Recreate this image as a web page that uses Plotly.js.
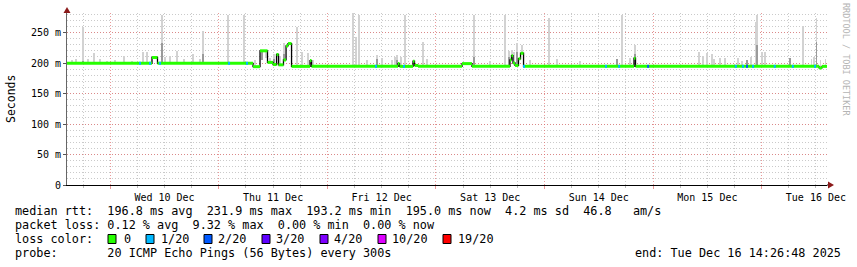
<!DOCTYPE html>
<html>
<head>
<meta charset="utf-8">
<script src="https://cdn.plot.ly/plotly-3.0.1.min.js"></script>
<style>html,body{margin:0;padding:0;background:#fff;}#chart{width:857px;height:267px;}</style>
</head>
<body>
<div id="chart"></div>
<script>
// ---------- DATA ----------
const startTime = "2025-12-09 14:26:48";
const endTime = "2025-12-16 14:26:48";

// median RTT (ms) as a step series: value holds from its time until the next time
const medTime = ["2025-12-09 14:26:48","2025-12-10 09:14","2025-12-10 10:27","2025-12-11 07:34","2025-12-11 09:07",
  "2025-12-11 10:46","2025-12-11 12:00","2025-12-11 12:46","2025-12-11 13:12","2025-12-11 14:18","2025-12-11 14:52",
  "2025-12-11 15:18","2025-12-11 16:05","2025-12-11 20:10","2025-12-11 20:30","2025-12-12 15:37","2025-12-12 15:57",
  "2025-12-12 18:56","2025-12-12 19:16","2025-12-12 20:02","2025-12-13 05:46","2025-12-13 07:58","2025-12-13 16:22",
  "2025-12-13 16:42","2025-12-13 17:02","2025-12-13 17:29","2025-12-13 18:15","2025-12-13 18:42","2025-12-13 19:22",
  "2025-12-14 19:47","2025-12-14 20:07","2025-12-16 12:41","2025-12-16 13:20"];
const medVal = [199.5,209,199.5,194,220,201,197.5,214,197,205,228,231.9,194.5,204,194.5,199,194.5,203,196,194.5,
  199,194.5,205,212,200,196,207,216,194.5,208,194.5,192,194.5];

// smoke: highest ping per interval (ms) and a denser inner band (ms, null = none)
const smokeTime = ["2025-12-09 15:34","2025-12-09 16:27","2025-12-09 17:59","2025-12-09 19:05","2025-12-09 20:25",
  "2025-12-09 21:45","2025-12-09 23:17","2025-12-10 01:04","2025-12-10 03:03","2025-12-10 04:49","2025-12-10 07:15",
  "2025-12-10 08:08","2025-12-10 11:27","2025-12-10 12:07","2025-12-10 13:13","2025-12-10 14:46","2025-12-10 16:19",
  "2025-12-10 18:18","2025-12-10 19:51","2025-12-10 20:31","2025-12-11 02:02","2025-12-11 05:35","2025-12-11 08:00",
  "2025-12-11 09:33","2025-12-11 10:26","2025-12-11 11:19","2025-12-11 12:12","2025-12-11 13:32","2025-12-11 14:25",
  "2025-12-11 17:17","2025-12-11 18:23","2025-12-11 19:43","2025-12-11 20:50","2025-12-12 05:40","2025-12-12 06:20",
  "2025-12-12 07:00","2025-12-12 08:46","2025-12-12 10:58","2025-12-12 12:05","2025-12-12 14:17","2025-12-12 14:57",
  "2025-12-12 15:24","2025-12-12 16:17","2025-12-12 17:10","2025-12-12 21:08","2025-12-12 22:02","2025-12-13 08:25",
  "2025-12-13 11:58","2025-12-13 15:16","2025-12-13 16:09","2025-12-13 16:49","2025-12-13 17:16","2025-12-13 17:55",
  "2025-12-13 19:02","2025-12-13 20:48","2025-12-14 01:00","2025-12-14 02:47","2025-12-14 07:52","2025-12-14 16:02",
  "2025-12-14 17:09","2025-12-14 18:55","2025-12-14 20:00","2025-12-15 10:09","2025-12-15 11:02","2025-12-15 11:55",
  "2025-12-15 13:01","2025-12-15 13:28","2025-12-15 14:48","2025-12-15 15:54","2025-12-15 18:46","2025-12-15 19:40",
  "2025-12-15 20:46","2025-12-15 21:39","2025-12-15 22:45","2025-12-15 22:59","2025-12-16 00:05","2025-12-16 00:44",
  "2025-12-16 06:16","2025-12-16 09:09","2025-12-16 11:06","2025-12-16 11:36","2025-12-16 12:03","2025-12-16 12:56",
  "2025-12-16 14:02"];
const smokeMax = [205,206,259,207,216,206,204,205,211,204,218,218,279,210,212,220,206,214,207,253,279,279,205,
  212,208,208,215,212,233,259,218,216,205,282,243,279,205,213,208,205,210,213,210,279,235,206,279,203,279,220,
  222,218,233,230,205,273,207,203,207,279,208,230,218,212,216,215,207,208,208,208,204,205,210,268,279,218,218,
  208,261,207,210,274,205,207];
const smokeMid = [null,null,204,null,null,null,null,null,null,null,null,null,233,null,null,null,null,null,null,215,null,null,null,
  205,null,null,206,null,215,null,null,null,null,null,null,null,null,206,null,null,null,205,null,null,null,null,210,null,null,210,
  212,null,218,215,null,null,null,null,207,null,null,215,null,null,null,null,null,null,null,null,null,205,null,null,230,null,null,
  208,null,null,null,235,null,null];

// packet loss (count of 20) observed at these times
const lossTime = ["2025-12-10 06:35","2025-12-10 08:48","2025-12-10 11:00","2025-12-11 02:16","2025-12-11 06:14",
  "2025-12-12 10:45","2025-12-12 16:56","2025-12-13 19:28","2025-12-14 13:36","2025-12-14 16:30","2025-12-14 22:54",
  "2025-12-15 18:18","2025-12-15 19:52","2025-12-15 20:46","2025-12-15 22:06","2025-12-16 02:54","2025-12-16 06:54",
  "2025-12-16 11:48"];
const lossCount = [1,1,1,1,1,1,1,1,1,1,2,1,1,2,1,1,1,1];

// legend / labels
const lossLevels = [0,1,2,3,4,10,19];
const lossLabels = ["0","1/20","2/20","3/20","4/20","10/20","19/20"];
const yTickVals = [0,50,100,150,200,250];
const yTickText = ["0","50 m","100 m","150 m","200 m","250 m"];
const statsLine1 = "median rtt:  196.8 ms avg  231.9 ms max  193.2 ms min  195.0 ms now  4.2 ms sd  46.8   am/s";
const statsLine2 = "packet loss: 0.12 % avg  9.32 % max  0.00 % min  0.00 % now";
const statsLine3 = "loss color:";
const statsLine4 = "probe:       20 ICMP Echo Pings (56 Bytes) every 300s";
const endLabel = "end: Tue Dec 16 14:26:48 2025";

// ---------- STYLE ----------
const lossColors = {0:"#26ff00",1:"#00b8ff",2:"#0059ff",3:"#5e00ff",4:"#7e00ff",10:"#dd00ff",19:"#ff0000"};
const MONO = "DejaVu Sans Mono";
const L = 67, W = 760, B = 185, H = 172;
const PX = p => (p - L) / W;
const PY = p => (B - p) / H;
const nb = s => s.replace(/ /g, "\u00A0");

const tms = s => new Date(s.replace(" ", "T") + (s.length === 16 ? ":00" : "") + "Z").getTime();
const fmt = ms => new Date(ms).toISOString().replace("T", " ").slice(0, 19);
const medMs = medTime.map(tms);
function medianAt(s) {
  const t = tms(s);
  let v = medVal[0];
  for (let i = 0; i < medMs.length; i++) { if (medMs[i] <= t) v = medVal[i]; else break; }
  return v;
}

const traces = [];
// smoke outer
const smokeBase = smokeTime.map(medianAt);
traces.push({type:"bar", x:smokeTime, base:smokeBase, y:smokeMax.map((v,i)=>v-smokeBase[i]),
  width:1000000, marker:{color:"#d2d2d2", line:{width:0}}, hoverinfo:"skip"});
// smoke inner
const midX = [], midB = [], midY = [];
smokeTime.forEach((t,i)=>{ if (smokeMid[i] !== null) { midX.push(t); midB.push(smokeBase[i]); midY.push(smokeMid[i]-smokeBase[i]); }});
traces.push({type:"bar", x:midX, base:midB, y:midY, width:1000000,
  marker:{color:"#9a9a9a", line:{width:0}}, hoverinfo:"skip"});
// black median step
traces.push({type:"scatter", mode:"lines", x:medTime.concat([endTime]), y:medVal.concat([medVal[medVal.length-1]]),
  line:{shape:"hv", color:"#000", width:1.3}, hoverinfo:"skip"});
// green horizontal segments
const gx = [], gy = [];
for (let i = 0; i < medTime.length; i++) {
  const t2 = i + 1 < medTime.length ? medTime[i+1] : endTime;
  gx.push(medTime[i], t2, null); gy.push(medVal[i], medVal[i], null);
}
traces.push({type:"scatter", mode:"lines", x:gx, y:gy, line:{color:lossColors[0], width:3}, hoverinfo:"skip"});
// loss colored segments
[1,2].forEach(lv => {
  const lx = [], ly = [];
  lossTime.forEach((t,i)=>{ if (lossCount[i] === lv) {
    const c = tms(t), v = medianAt(t);
    lx.push(fmt(c - 800000), fmt(c + 800000), null); ly.push(v, v, null);
  }});
  traces.push({type:"scatter", mode:"lines", x:lx, y:ly, line:{color:lossColors[lv], width:3}, hoverinfo:"skip"});
});

const redGrid = "rgba(225,110,110,0.7)";
const grayGrid = "rgba(150,150,150,0.5)";
const dash = "1px,2px";

const annotations = [
  {text:"Seconds", xref:"paper", yref:"paper", x:PX(11), y:PY(99), textangle:-90, showarrow:false,
   font:{family:MONO, size:11.5, color:"#000"}, xanchor:"center", yanchor:"middle"},
  {text:"RRDTOOL / TOBI OETIKER", xref:"paper", yref:"paper", x:PX(846), y:PY(60), textangle:90, showarrow:false,
   font:{family:MONO, size:8.5, color:"#b4b4b4"}, xanchor:"center", yanchor:"middle"},
];
[[statsLine1,211],[statsLine2,225],[statsLine3,239],[statsLine4,253]].forEach(([s,y])=>{
  annotations.push({text:nb(s), xref:"paper", yref:"paper", x:PX(14), y:PY(y), showarrow:false,
    xanchor:"left", yanchor:"middle", font:{family:MONO, size:11.8, color:"#000"}, borderpad:0});
});
annotations.push({text:nb(endLabel), xref:"paper", yref:"paper", x:PX(842), y:PY(253), showarrow:false,
  xanchor:"right", yanchor:"middle", font:{family:MONO, size:11.8, color:"#000"}, borderpad:0});

const sqLeft = [108,146,204,262,320,378,443];
const lblLeft = [123,160,217,275,333,391,457];
const shapes = [
  // axis arrows
  {type:"path", xref:"paper", yref:"paper", path:`M ${PX(63.5)},${PY(13)} L ${PX(70.5)},${PY(13)} L ${PX(67)},${PY(7)} Z`,
   fillcolor:"#8b1a1a", line:{width:0}},
  {type:"line", xref:"paper", yref:"paper", x0:1, x1:PX(831), y0:0, y1:0, line:{color:"#000", width:1}},
  {type:"path", xref:"paper", yref:"paper", path:`M ${PX(828)},${PY(181.5)} L ${PX(828)},${PY(188.5)} L ${PX(834)},${PY(185)} Z`,
   fillcolor:"#8b1a1a", line:{width:0}},
];
lossLevels.forEach((lv,i)=>{
  shapes.push({type:"rect", xref:"paper", yref:"paper", x0:PX(sqLeft[i]), x1:PX(sqLeft[i]+8), y0:PY(243.5), y1:PY(234.5),
    fillcolor:lossColors[lv], line:{color:"#000", width:1}});
  annotations.push({text:lossLabels[i], xref:"paper", yref:"paper", x:PX(lblLeft[i]), y:PY(239), showarrow:false,
    xanchor:"left", yanchor:"middle", font:{family:MONO, size:11.8, color:"#000"}, borderpad:0});
});

const layout = {
  width:857, height:267, margin:{l:L, r:857-L-W, t:B-H, b:267-B, pad:0},
  paper_bgcolor:"#fff", plot_bgcolor:"#fff", showlegend:false, barmode:"overlay", bargap:0,
  font:{family:MONO, size:10, color:"#000"},
  xaxis:{type:"date", range:[startTime, endTime], autorange:false, fixedrange:true,
    tickmode:"linear", tick0:"2025-12-10 00:00:00", dtick:86400000, ticklabelmode:"period", tickformat:"%a %d %b",
    showgrid:true, gridcolor:redGrid, griddash:dash, gridwidth:1,
    ticks:"outside", ticklen:3, tickcolor:redGrid,
    minor:{tick0:"2025-12-10 00:00:00", dtick:21600000, showgrid:true, gridcolor:grayGrid, griddash:dash,
      ticks:"outside", ticklen:2, tickcolor:"#bbb"},
    showline:true, linecolor:"#000", linewidth:1, zeroline:false,
    tickfont:{family:MONO, size:10, color:"#000"}},
  yaxis:{range:[0,282], autorange:false, fixedrange:true, tickmode:"array", tickvals:yTickVals, ticktext:yTickText,
    showgrid:true, gridcolor:redGrid, griddash:dash, gridwidth:1,
    ticks:"outside", ticklen:3, tickcolor:"#555",
    minor:{tick0:0, dtick:10, showgrid:true, gridcolor:grayGrid, griddash:dash, ticks:""},
    showline:true, linecolor:"#666", linewidth:1, zeroline:false,
    tickfont:{family:MONO, size:10, color:"#000"}},
  annotations:annotations, shapes:shapes,
};
Plotly.newPlot("chart", traces, layout, {staticPlot:true, displayModeBar:false});
</script>
</body>
</html>
